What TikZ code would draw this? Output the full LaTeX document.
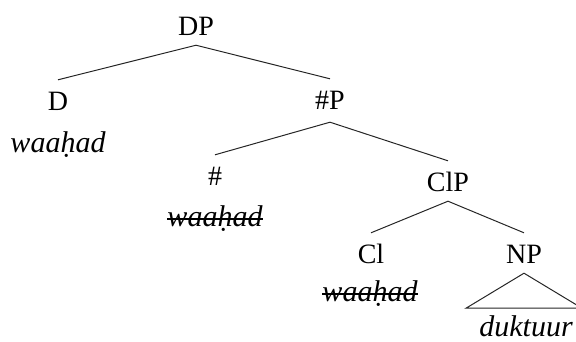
\documentclass[tikz,border=0pt]{standalone}
\usepackage{fontspec}
\setmainfont{Liberation Serif}
\tikzset{
  cat/.style={anchor=base, inner sep=0pt, text height=30pt, text depth=10pt,
    font=\fontsize{28}{32}\selectfont},
  word/.style={anchor=base, inner sep=0pt,
    font=\fontsize{30}{34}\selectfont\itshape},
  branch/.style={line width=1pt, black!85},
  strike/.style={line width=1.1pt, black}
}
\newcommand{\strikeword}[1]{%
  \draw[strike] ([yshift=7pt]#1.base west) -- ([yshift=7pt]#1.base east);}
\begin{document}
\begin{tikzpicture}[x=1pt, y=-1pt]
  \clip (0,0) rectangle (576,341);
  % category labels
  \node[cat] (DP)  at (196,35)  {DP};
  \node[cat] (D)   at (58,110)  {D};
  \node[cat, text depth=13pt] (NumP) at (330,109) {\#P};
  \node[cat] (Num) at (215,185) {\#};
  \node[cat] (ClP) at (448,191) {ClP};
  \node[cat] (Cl)  at (371,263) {Cl};
  \node[cat] (NP)  at (524,263) {NP};
  % lexical items
  \node[word] (wD)   at (58,152)  {waaḥad};
  \node[word] (wNum) at (215,226) {waaḥad};
  \node[word] (wCl)  at (370,301) {waaḥad};
  \node[word] (wNP)  at (526,336) {duktuur};
  \strikeword{wNum}
  \strikeword{wCl}
  % branches
  \draw[branch] (D.north) -- (DP.south) -- (NumP.north);
  \draw[branch] (Num.north) -- (NumP.south) -- (ClP.north);
  \draw[branch] (Cl.north) -- (ClP.south) -- (NP.north);
  % NP triangle
  \draw[branch] (NP.south) -- ++(-58,35) -- ++(116,0) -- cycle;
\end{tikzpicture}
\end{document}
